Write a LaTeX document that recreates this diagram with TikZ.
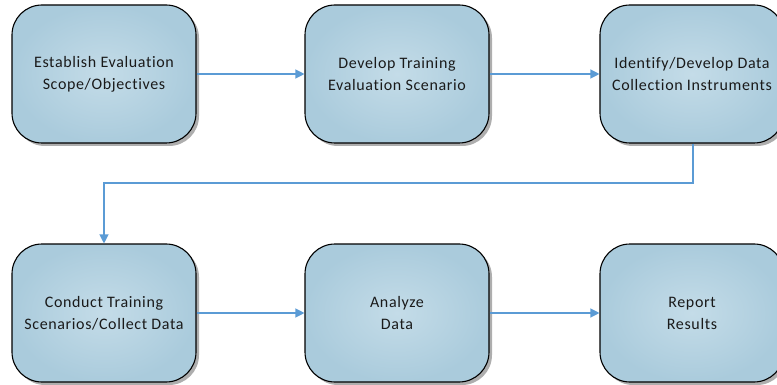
\documentclass[tikz,border=0pt]{standalone}
\usepackage{fontspec}
\setmainfont[Ligatures=CommonOff,LetterSpace=4]{Carlito}
\usetikzlibrary{arrows.meta,shadows}
\definecolor{boxin}{HTML}{C4DCE8}
\definecolor{boxout}{HTML}{AACBDC}
\definecolor{conn}{HTML}{5B9BD5}
\definecolor{txt}{HTML}{1A1A1A}
\tikzset{
  procbox/.style={draw=black, line width=1.1pt, rounded corners=30pt,
    inner color=boxin, outer color=boxout,
    minimum width=184pt, minimum height=138pt, align=center,
    font=\fontsize{16}{22}\selectfont, text=txt,
    drop shadow={shadow xshift=3pt, shadow yshift=-3pt, opacity=0.45, fill=black!70}},
  flow/.style={draw=conn, line width=1.2pt, -{Triangle[length=9pt,width=9pt]}}
}
\begin{document}
\begin{tikzpicture}[x=1pt,y=-1pt]
\useasboundingbox (0,0) rectangle (777,385);
\node[procbox] (a) at (104,74) {Establish Evaluation\\Scope/Objectives};
\node[procbox] (b) at (397,74) {Develop Training\\Evaluation Scenario};
\node[procbox] (c) at (692,74) {Identify/Develop Data\\Collection Instruments};
\node[procbox] (d) at (104,313) {Conduct Training\\Scenarios/Collect Data};
\node[procbox] (e) at (397,313) {Analyze\\Data};
\node[procbox] (f) at (692,313) {Report\\Results};
\coordinate (k1) at (693,183);
\coordinate (k2) at (104,183);
\draw[flow] (a) -- (b);
\draw[flow] (b) -- (c);
\draw[flow] (c.south -| k1) -- (k1) -- (k2) -- (d.north);
\draw[flow] (d) -- (e);
\draw[flow] (e) -- (f);
\end{tikzpicture}
\end{document}
